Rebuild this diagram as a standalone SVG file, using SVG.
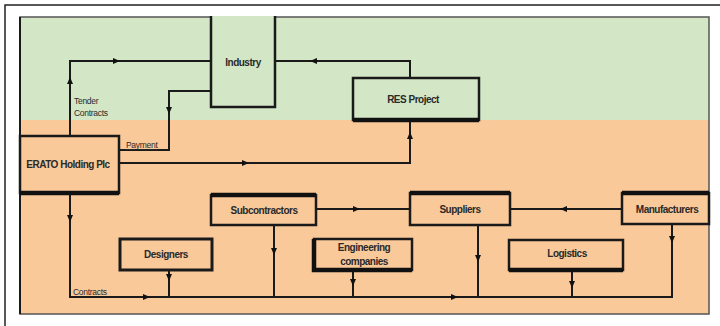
<svg xmlns="http://www.w3.org/2000/svg" width="720" height="326" viewBox="0 0 720 326">
<style>
.box{stroke:#1a1a1a;stroke-width:2.5}
.g{fill:#d3e7c6}
.o{fill:#f9c99a}
.thick{stroke:#111;stroke-width:4.5}
.ln{fill:none;stroke:#1a1a1a;stroke-width:2}
.t{font-family:"Liberation Sans",Arial,sans-serif;font-size:10px;font-weight:bold;fill:#2a2a2a;letter-spacing:-0.5px;text-anchor:middle}
.s{font-family:"Liberation Sans",Arial,sans-serif;font-size:8.5px;fill:#2a2a2a;letter-spacing:-0.3px}
</style>
<defs>
<path id="ah" d="M-4,-3 L3,0 L-4,3 Z" fill="#111"/>
</defs>
<rect width="720" height="326" fill="#ffffff"/>
<path d="M5,326 V5 H720" fill="none" stroke="#222" stroke-width="1.5"/>
<g id="background">
<rect x="20" y="17" width="689" height="103" fill="#d3e7c6"/>
<rect x="20" y="120" width="689" height="194" fill="#f9c99a"/>
<path d="M20,17 H709 V314 H20 Z" fill="none" stroke="#555" stroke-width="1.5"/>
<path d="M20,17 V314" stroke="#1a1a1a" stroke-width="2"/>
</g>
<g id="connectors">
<path class="ln" d="M70,136 V61 H211"/>
<path class="ln" d="M211,91 H169 V150 H119"/>
<path class="ln" d="M410,78 V61 H275"/>
<path class="ln" d="M119,163 H410 V120"/>
<path class="ln" d="M70,193 V297 H672 V224"/>
<path class="ln" d="M169,270 V297"/>
<path class="ln" d="M274,225 V297"/>
<path class="ln" d="M353,270 V297"/>
<path class="ln" d="M478,225 V297"/>
<path class="ln" d="M572,270 V297"/>
<path class="ln" d="M316,209 H410"/>
<path class="ln" d="M622,209 H510"/>
<use href="#ah" transform="translate(70,80) rotate(-90)"/>
<use href="#ah" transform="translate(117,61)"/>
<use href="#ah" transform="translate(169,111) rotate(90)"/>
<use href="#ah" transform="translate(313,61) rotate(180)"/>
<use href="#ah" transform="translate(246,163)"/>
<use href="#ah" transform="translate(410,135) rotate(-90)"/>
<use href="#ah" transform="translate(70,219) rotate(90)"/>
<use href="#ah" transform="translate(147,297)"/>
<use href="#ah" transform="translate(455,297)"/>
<use href="#ah" transform="translate(672,240) rotate(90)"/>
<use href="#ah" transform="translate(169,278) rotate(90)"/>
<use href="#ah" transform="translate(274,252) rotate(90)"/>
<use href="#ah" transform="translate(353,283) rotate(90)"/>
<use href="#ah" transform="translate(478,259) rotate(90)"/>
<use href="#ah" transform="translate(572,285) rotate(90)"/>
<use href="#ah" transform="translate(357,209)"/>
<use href="#ah" transform="translate(563,209) rotate(180)"/>
<text class="s" x="74" y="104">Tender</text>
<text class="s" x="74" y="116">Contracts</text>
<text class="s" x="126" y="148" text-decoration="underline">Payment</text>
<text class="s" x="73" y="295">Contracts</text>
</g>
<g id="industry">
<rect x="211" y="16" width="64" height="91" class="g"/>
<path d="M211,16 V107 H275 V16" fill="none" stroke="#1a1a1a" stroke-width="2.5"/>
<text class="t" x="243" y="66">Industry</text>
</g>
<g id="res-project">
<rect x="353" y="78" width="126" height="42" class="g box"/>
<path d="M353,120 H479" class="thick"/>
<text class="t" x="413" y="103">RES Project</text>
</g>
<g id="erato">
<rect x="20" y="136" width="99" height="57" class="o box"/>
<path d="M20,193 H119" class="thick"/>
<text class="t" x="68" y="168">ERATO Holding Plc</text>
</g>
<g id="subcontractors">
<rect x="211" y="195" width="105" height="30" class="o box"/>
<path d="M211,195 H316" class="thick"/>
<text class="t" x="264" y="214">Subcontractors</text>
</g>
<g id="designers">
<rect x="120" y="239" width="92" height="31" class="o" stroke="#1a1a1a" stroke-width="3"/>
<text class="t" x="166" y="258">Designers</text>
</g>
<g id="engineering">
<rect x="314" y="239" width="98" height="31" class="o box"/>
<path d="M314,239 V270 H412" fill="none" class="thick"/>
<text class="t" x="364" y="251">Engineering</text>
<text class="t" x="364" y="265">companies</text>
</g>
<g id="suppliers">
<rect x="410" y="193" width="100" height="32" class="o box"/>
<path d="M410,193 H510" class="thick"/>
<text class="t" x="460" y="213">Suppliers</text>
</g>
<g id="logistics">
<rect x="509" y="240" width="114" height="30" class="o box"/>
<path d="M509,270 H623" class="thick"/>
<text class="t" x="567" y="257">Logistics</text>
</g>
<g id="manufacturers">
<rect x="622" y="193" width="87" height="31" class="o box"/>
<path d="M622,193 H709" class="thick"/>
<text class="t" x="667" y="213">Manufacturers</text>
</g>
</svg>
